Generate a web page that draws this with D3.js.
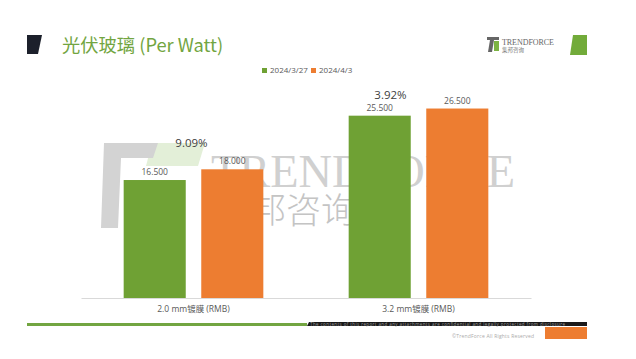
<!DOCTYPE html>
<html><head><meta charset="utf-8">
<script src="https://cdn.jsdelivr.net/npm/d3@7"></script>
<style>body{margin:0;background:#fff}svg{display:block}</style>
</head><body>
<svg id="c" width="636" height="359"></svg>
<script>
const categories = ["2.0 mm镀膜 (RMB)", "3.2 mm镀膜 (RMB)"];
const seriesNames = ["2024/3/27", "2024/4/3"];
const s1 = [16.5, 25.5];
const s2 = [18.0, 26.5];
const changeLabels = ["9.09%", "3.92%"];
const titleText = "光伏玻璃 (Per Watt)";

const colors = ["#6fa134", "#ed7d31"];
const svg = d3.select("#c");

// header
svg.append("polygon").attr("points","27,35 42,35 38,54 27,54").attr("fill","#1c202b");
svg.append("text").attr("x",62).attr("y",52).attr("font-family","'Noto Sans CJK SC','Noto Sans',sans-serif")
  .attr("font-size",18.3).attr("fill","#72a541").text(titleText);
svg.append("polygon").attr("points","573,35 587,35 587,55 570,55").attr("fill","#72ab3a");
// top-right logo
const lg = svg.append("g");
lg.append("rect").attr("x",487).attr("y",37).attr("width",12).attr("height",3).attr("fill","#666");
lg.append("polygon").attr("points","490,40 494,40 492,52 488,52").attr("fill","#666");
lg.append("rect").attr("x",494).attr("y",41).attr("width",5).attr("height",10).attr("fill","#7cb342");
lg.append("text").attr("x",502).attr("y",45).attr("font-family","'Liberation Serif',serif").attr("font-size",8)
  .attr("fill","#666").attr("textLength",52).text("TRENDFORCE");
lg.append("text").attr("x",502).attr("y",52).attr("font-family","'Noto Sans CJK SC',sans-serif").attr("font-size",5.5)
  .attr("fill","#777").text("集邦咨询");

// watermark
const wm = svg.append("g");
wm.append("polygon").attr("points","152,143 205,143 198,166 146,166").attr("fill","#e3efd8");
wm.append("polygon").attr("points","104,143 158,143 153,158 121,158 118,228 101,228").attr("fill","#d3d3d3");
wm.append("text").attr("x",211).attr("y",187).attr("font-family","'Liberation Serif','DejaVu Serif',serif")
  .attr("font-size",46).attr("fill","#d0d0d0").attr("textLength",304).attr("lengthAdjust","spacingAndGlyphs").text("TRENDFORCE");
wm.append("text").attr("x",216).attr("y",223).attr("font-family","'Noto Sans CJK SC',sans-serif").attr("font-weight",300)
  .attr("font-size",35).attr("fill","#c4c4c4").text("集邦咨询");

// scales
const x = d3.scaleBand().domain(categories).range([81, 531]);
const xs = d3.scaleBand().domain(seriesNames).range([0, x.bandwidth()]).paddingInner(0.2).paddingOuter(0.55);
const y = d3.scaleLinear().domain([0, 30]).range([298, 83.5]);

// axis
const ax = svg.append("g").attr("transform","translate(0,298)").call(d3.axisBottom(x).tickSize(0).tickPadding(8));
ax.select(".domain").attr("stroke","#d9d9d9");
ax.selectAll("text").attr("font-family","'Open Sans','Noto Sans CJK SC',sans-serif").attr("font-size",8.5).attr("fill","#595959");

const data = categories.map((c,i)=>({c, vals:[s1[i], s2[i]], change: changeLabels[i]}));
const g = svg.selectAll("g.grp").data(data).enter().append("g").attr("class","grp")
  .attr("transform", d=>`translate(${x(d.c)},0)`);
g.selectAll("rect").data(d=>d.vals.map((v,j)=>({v,s:seriesNames[j],j}))).enter().append("rect")
  .attr("x",d=>xs(d.s)).attr("width",xs.bandwidth()).attr("y",d=>y(d.v)).attr("height",d=>y(0)-y(d.v))
  .attr("fill",d=>colors[d.j]);
g.selectAll("text.val").data(d=>d.vals.map((v,j)=>({v,s:seriesNames[j],j}))).enter().append("text").attr("class","val")
  .attr("x",d=>xs(d.s)+xs.bandwidth()/2).attr("y",d=>y(d.v)-5).attr("text-anchor","middle")
  .attr("font-family","'Open Sans',sans-serif").attr("font-size",8.5).attr("fill","#595959").text(d=>d3.format(".3f")(d.v));
const chgOff = [[-2,22],[-28,10]];
g.append("text").attr("x",(d,i)=>x.bandwidth()/2+chgOff[i][0]).attr("y",(d,i)=>y(d3.max(d.vals))-chgOff[i][1])
  .attr("text-anchor","middle").attr("font-family","'Open Sans',sans-serif").attr("font-size",11.5).attr("fill","#404040")
  .text(d=>d.change);

// legend
const leg = svg.append("g");
const legX = [262, 311];
seriesNames.forEach((n,i)=>{
  leg.append("rect").attr("x",legX[i]).attr("y",68).attr("width",5).attr("height",5).attr("fill",colors[i]);
  leg.append("text").attr("x",legX[i]+8).attr("y",73).attr("font-family","'Open Sans',sans-serif").attr("font-size",8)
    .attr("fill","#595959").text(n);
});

// footer
svg.append("rect").attr("x",27).attr("y",323).attr("width",280).attr("height",3).attr("fill","#72a541");
svg.append("polygon").attr("points","309,322 587,322 587,326 307,326").attr("fill","#1a1a1a");
svg.append("text").attr("x",310).attr("y",325.5).attr("font-family","'Open Sans',sans-serif").attr("font-size",4.5)
  .attr("fill","#999").attr("textLength",255).text("The contents of this report and any attachments are confidential and legally protected from disclosure");
svg.append("text").attr("x",452).attr("y",338).attr("font-family","'Open Sans',sans-serif").attr("font-size",5)
  .attr("fill","#aaa").attr("textLength",82).text("©TrendForce All Rights Reserved");
svg.append("rect").attr("x",545).attr("y",327).attr("width",42).attr("height",12).attr("fill","#ed7d31");
</script>
</body></html>
